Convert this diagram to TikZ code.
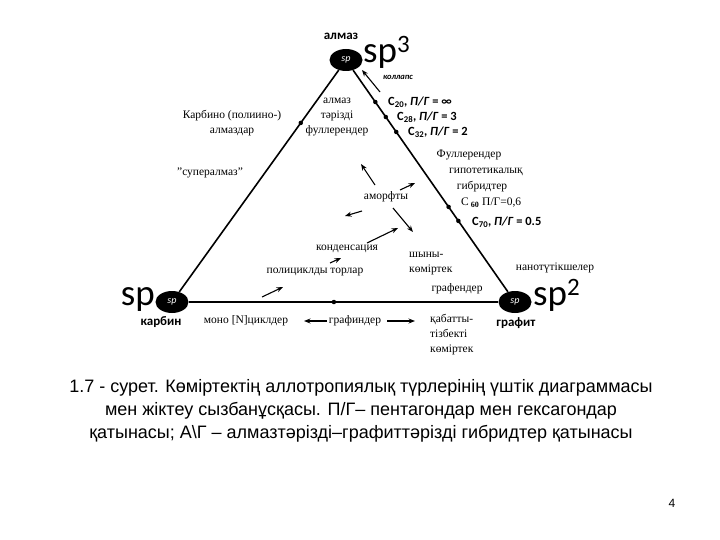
\documentclass[tikz,border=0pt]{standalone}
\usepackage{fontspec}
\setmainfont{Liberation Serif}
\newfontfamily\arialf{Liberation Sans}
\newfontfamily\carl{Carlito}
\usetikzlibrary{shapes.geometric,arrows.meta,calc}
\tikzset{
  vert/.style={ellipse, fill=black, text=white, inner sep=0pt, minimum width=33pt, minimum height=22pt, font=\carl\itshape\fontsize{10}{10}\selectfont},
  side/.style={line width=1.6pt},
  lbl/.style={font=\fontsize{11.5}{15}\selectfont, inner sep=0pt, align=center},
  big/.style={font=\carl\fontsize{37}{37}\selectfont, inner sep=0pt},
  vname/.style={font=\carl\bfseries\fontsize{13}{13}\selectfont, inner sep=0pt},
  clab/.style={font=\carl\bfseries\fontsize{12.5}{12.5}\selectfont, anchor=west, inner sep=0pt},
  dot/.style={circle, fill=black, inner sep=0pt, minimum size=4.5pt},
  arr/.style={-{Stealth[length=6.5pt,width=5pt]}, line width=1.1pt},
  captext/.style={font=\arialf\fontsize{18}{23}\selectfont, inner sep=0pt, align=center},
}
\newcommand{\supdig}[1]{\raisebox{10pt}{\fontsize{25}{25}\selectfont #1}}
\begin{document}
\begin{tikzpicture}[x=1pt,y=-1pt]
\useasboundingbox[fill=white] (0,0) rectangle (720,540);
% vertices
\node[vert] (A) at (346,60) {sp};
\node[vert] (C) at (172,302) {sp};
\node[vert] (G) at (515,302) {sp};
\draw[side] (A) -- (C);
\draw[side] (A) -- (G);
\draw[side] (C) -- (G);
% big labels
\node[big, anchor=base west] (sp3) at (363,63) {sp\supdig{3}};
\node[big, anchor=base east] (sp1) at (155,305) {sp};
\node[big, anchor=base west] (sp2) at (533,305) {sp\supdig{2}};
\node[vname] (nA) at (341,36) {алмаз};
\node[vname] (nC) at (161,322) {карбин};
\node[vname] (nG) at (516,323) {графит};
% dots
\node[dot] (d20) at ($(A)!0.1736!(G)$) {};
\node[dot] (d28) at ($(A)!0.2355!(G)$) {};
\node[dot] (d32) at ($(A)!0.2975!(G)$) {};
\node[dot] (d60) at ($(A)!0.607!(G)$) {};
\node[dot] (d70) at ($(A)!0.665!(G)$) {};
\node[dot] (dl) at ($(A)!0.26!(C)$) {};
\node[dot] (db) at ($(C)!0.472!(G)$) {};
% collapse
\node[font=\carl\bfseries\itshape\fontsize{8.5}{8.5}\selectfont, inner sep=0pt] (col) at (398,77) {коллапс};
\coordinate (colT) at (380,92);
\coordinate (colH) at (362,70);
\draw[arr] (colT) -- (colH);
% C labels
\node[clab] (c20) at (388,102) {C\textsubscript{20}, \textit{П/Г} = ∞};
\node[clab] (c28) at (397,117) {C\textsubscript{28}, \textit{П/Г} = 3};
\node[clab] (c32) at (408,132) {C\textsubscript{32}, \textit{П/Г} = 2};
\node[clab] (c70) at (472,222) {C\textsubscript{70}, \textit{П/Г} = 0.5};
% serif labels
\node[lbl] (almf) at (337,117) {алмаз\\тәрізді\\фуллерендер};
\node[lbl] (karb) at (232,123) {Карбино (полиино-)\\алмаздар};
\node[lbl] (super) at (210,173) {"супералмаз"};
\node[lbl] (f1) at (469,155) {Фуллерендер};
\node[lbl] (f2) at (486,172) {гипотетикалық};
\node[lbl] (f3) at (482,187) {гибридтер};
\node[lbl, anchor=west] (c60) at (461,203) {C\,\textsubscript{\textbf{60}} П/Г=0,6};
\node[lbl] (amor) at (386,197) {аморфты};
\node[lbl] (kond) at (347,249) {конденсация};
\node[lbl] (poly) at (315,272) {полициклды торлар};
\node[lbl, align=left, anchor=west] (shyny) at (409,264) {шыны-\\көміртек};
\node[lbl] (grafen) at (457,289) {графендер};
\node[lbl] (nano) at (555,268) {нанотүтікшелер};
\node[lbl] (mono) at (246,321) {моно [N]циклдер};
\node[lbl] (grafin) at (355,321) {графиндер};
\node[lbl, align=left, anchor=west] (qab) at (430,335) {қабатты-\\тізбекті\\көміртек};
% arrows
\coordinate (a1t) at (375,185); \coordinate (a1h) at (361,164);
\coordinate (a2t) at (400,190); \coordinate (a2h) at (415,183);
\coordinate (a3t) at (362,211); \coordinate (a3h) at (345,216);
\coordinate (a4t) at (393,208); \coordinate (a4h) at (413,232);
\coordinate (a5t) at (367,243); \coordinate (a5h) at (398,228);
\coordinate (a6t) at (330,263); \coordinate (a6h) at (341,258);
\coordinate (a7t) at (262,297); \coordinate (a7h) at (283,287);
\coordinate (a8t) at (327,321); \coordinate (a8h) at (304,321);
\coordinate (a9t) at (387,321); \coordinate (a9h) at (415,321);
\draw[arr] (a1t) -- (a1h);
\draw[arr] (a2t) -- (a2h);
\draw[arr] (a3t) -- (a3h);
\draw[arr] (a4t) -- (a4h);
\draw[arr] (a5t) -- (a5h);
\draw[arr] (a6t) -- (a6h);
\draw[arr] (a7t) -- (a7h);
\draw[arr] (a8t) -- (a8h);
\draw[arr] (a9t) -- (a9h);
% caption
\node[captext] (capt) at (361,411) {1.7 - сурет. Көміртектің аллотропиялық түрлерінің үштік диаграммасы\\мен жіктеу сызбанұсқасы. П/Г– пентагондар мен гексагондар\\қатынасы; А\textbackslash Г – алмазтәрізді–графиттәрізді гибридтер қатынасы};
\node[font=\arialf\fontsize{12}{12}\selectfont, inner sep=0pt] (pg) at (672,503) {4};
\end{tikzpicture}
\end{document}
